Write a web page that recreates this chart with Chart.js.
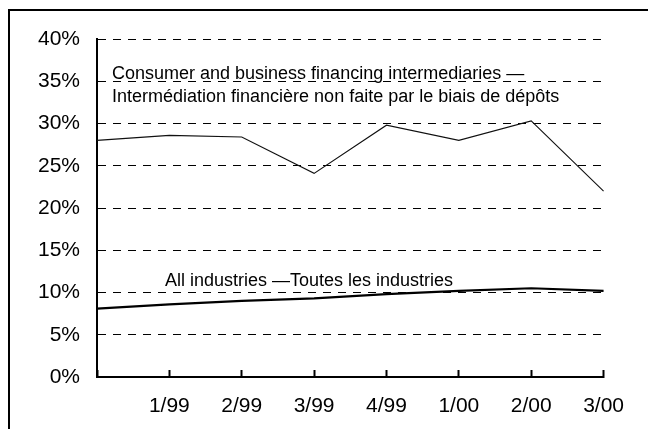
<!DOCTYPE html>
<html>
<head>
<meta charset="utf-8">
<script src="https://cdn.jsdelivr.net/npm/chart.js@4/dist/chart.umd.min.js"></script>
<style>
  html, body { margin: 0; padding: 0; background: #fff; overflow: hidden; }
  #wrap { position: relative; width: 648px; height: 429px; overflow: hidden; }
  #frame { position: absolute; left: 8px; top: 9px; width: 700px; height: 500px;
           border: 2px solid #000; box-sizing: border-box; }
  canvas { position: absolute; left: 0; top: 0; }
</style>
</head>
<body>
<div id="wrap">
  <div id="frame"></div>
  <canvas id="chart" width="648" height="429"></canvas>
</div>
<script>
// Quarterly categories (first quarter, 4/98, carries no label on the axis)
const tickLabels = ['', '1/99', '2/99', '3/99', '4/99', '1/00', '2/00', '3/00'];

// Shares in percent
const consumerFinancing = [28.0, 28.6, 28.4, 24.1, 29.8, 28.0, 30.3, 22.0];
const allIndustries = [8.1, 8.6, 9.0, 9.3, 9.8, 10.2, 10.5, 10.2];

const yTicks = { min: 0, max: 40, step: 5 };

const seriesNotes = [
  { lines: ['Consumer and business financing intermediaries \u2014',
            'Interm\u00e9diation financi\u00e8re non faite par le biais de d\u00e9p\u00f4ts'],
    x: 112, y: 79 },
  { lines: ['All industries \u2014Toutes les industries'], x: 165, y: 286 }
];

const FONT = '"Liberation Sans", Arial, sans-serif';

const notesPlugin = {
  id: 'seriesNotes',
  afterDatasetsDraw(chart) {
    const ctx = chart.ctx;
    ctx.save();
    ctx.font = '18px ' + FONT;
    ctx.fillStyle = '#000';
    ctx.textAlign = 'left';
    ctx.textBaseline = 'alphabetic';
    seriesNotes.forEach(n => {
      n.lines.forEach((t, i) => ctx.fillText(t, n.x, n.y + i * 23));
    });
    ctx.restore();
  }
};

new Chart(document.getElementById('chart'), {
  type: 'line',
  data: {
    labels: tickLabels,
    datasets: [
      { data: consumerFinancing, borderColor: '#111', borderWidth: 1.1,
        pointRadius: 0, tension: 0, fill: false },
      { data: allIndustries, borderColor: '#000', borderWidth: 2.2,
        pointRadius: 0, tension: 0, fill: false }
    ]
  },
  options: {
    responsive: false,
    animation: false,
    devicePixelRatio: 1,
    layout: { padding: { top: 39, right: 37, left: 0, bottom: 0 } },
    plugins: { legend: { display: false }, tooltip: { enabled: false } },
    scales: {
      x: {
        offset: false,
        afterFit(scale) { scale.height = 52; },
        grid: { display: true, drawOnChartArea: false, drawTicks: true,
                tickLength: -7, tickWidth: 2, tickColor: '#000' },
        border: { display: true, color: '#000', width: 2 },
        ticks: { autoSkip: false, maxRotation: 0, padding: 24, color: '#000',
                 font: { family: FONT, size: 21 } }
      },
      y: {
        min: yTicks.min, max: yTicks.max,
        afterFit(scale) { scale.width = 97; },
        grid: { display: true, drawTicks: false, color: '#000', lineWidth: 1 },
        border: { display: true, color: '#000', width: 2, dash: [8, 7] },
        ticks: { stepSize: yTicks.step, padding: 17, color: '#000',
                 font: { family: FONT, size: 21 },
                 callback: v => v + '%' }
      }
    }
  },
  plugins: [notesPlugin]
});
</script>
</body>
</html>
